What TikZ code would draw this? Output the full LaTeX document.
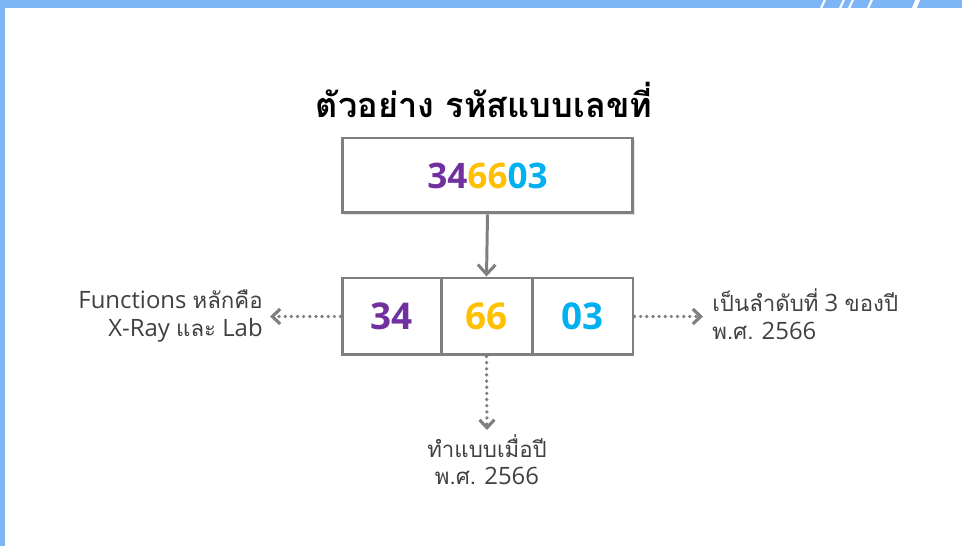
\documentclass[tikz,border=0pt]{standalone}
\usepackage{fontspec}
\setmainfont{Open Sans}
\newfontfamily\thaifont[Script=Thai, Scale=0.93]{Loma}
\usepackage{xcolor}
\usepackage{tikz}
\usetikzlibrary{arrows.meta, positioning, shadows}
\definecolor{barblue}{RGB}{125, 181, 245}
\definecolor{boxgray}{RGB}{127, 127, 127}
\definecolor{txtgray}{RGB}{64, 64, 64}
\definecolor{digpurple}{RGB}{112, 48, 160}
\definecolor{diggold}{RGB}{255, 192, 0}
\definecolor{digcyan}{RGB}{0, 176, 240}

\begin{document}
\begin{tikzpicture}[x=0.02cm, y=-0.02cm,
  cellbox/.style={draw=boxgray, line width=1.7pt, fill=white, inner sep=0pt,
    minimum height=1.54cm, font=\bfseries\fontsize{21}{24}\selectfont},
  codebox/.style={draw=boxgray, line width=1.7pt, fill=white, inner sep=0pt,
    minimum width=5.82cm, minimum height=1.5cm, font=\bfseries\fontsize{20}{24}\selectfont,
    drop shadow={opacity=0.2, shadow xshift=1pt, shadow yshift=-1pt}},
  notetext/.style={text=txtgray, inner sep=0pt, font=\fontsize{13.6}{15.8}\selectfont},
  solidarrow/.style={draw=boxgray, line width=1.7pt, -{Straight Barb[length=5.5pt, width=10pt]}},
  dotarrow/.style={draw=boxgray, line width=2.1pt, line cap=round, dash pattern=on 0pt off 3.5pt,
    -{Straight Barb[length=4.5pt, width=8.5pt, line width=1.8pt]}},
]
  \useasboundingbox (0,0) rectangle (962,546);

  % Frame bars
  \fill[barblue] (0,0) rectangle (962,8);
  \fill[barblue] (0,0) rectangle (5,546);
  \foreach \x/\w in {821/1.2, 840/1.2, 849/1.2, 868/1.2, 914/2.5} {
    \draw[white, line width=\w pt] (\x,8.5) -- (\x+4,-0.5);
  }

  % Title
  \node[font=\thaifont\bfseries\fontsize{21}{26}\selectfont] (title) at (484,100) {ตัวอย่าง รหัสแบบเลขที่};

  % Full code
  \node[codebox] (code) at (487.5,175.5)
    {\textcolor{digpurple}{34}\textcolor{diggold}{66}\textcolor{digcyan}{03}};

  % Split code
  \node[cellbox, minimum width=1.98cm, text=digpurple] (cella) at (391.5,316.5) {34};
  \node[cellbox, minimum width=1.82cm, text=diggold] (cellb) at (486.5,316.5) {66};
  \node[cellbox, minimum width=2.02cm, text=digcyan] (cellc) at (582.5,316.5) {03};

  % Notes
  \node[notetext, align=right, anchor=east] (funcs) at (263,316)
    {Functions {\thaifont หลักคือ}\\X-Ray {\thaifont และ} Lab};
  \node[notetext, align=left, anchor=west] (order) at (712,314)
    {{\thaifont เป็นลำดับที่} 3 {\thaifont ของปี}\\{\thaifont พ.ศ.} 2566};
  \node[notetext, align=center, anchor=north] (year) at (487,434)
    {{\thaifont ทำแบบเมื่อปี}\\{\thaifont พ.ศ.} 2566};

  % Connectors
  \draw[solidarrow] (code.south) -- (cellb.north);
  \draw[dotarrow, shorten >=0.14cm] (cella.west) -- (funcs.east |- cella.west);
  \draw[dotarrow, shorten >=0.18cm] (cellc.east) -- (order.west |- cellc.east);
  \draw[dotarrow, shorten >=0.08cm] (cellb.south) -- (year.north);

\end{tikzpicture}
\end{document}
